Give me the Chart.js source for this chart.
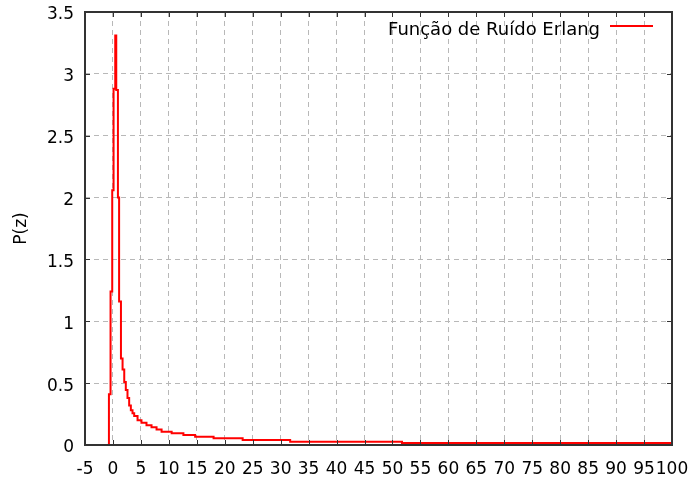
<!DOCTYPE html>
<html>
<head>
<meta charset="utf-8">
<title>Função de Ruído Erlang</title>
<script src="https://cdn.jsdelivr.net/npm/chart.js@4.4.0/dist/chart.umd.min.js"></script>
<style>
  html, body { margin: 0; padding: 0; background: #fff; }
  canvas { display: block; }
</style>
</head>
<body>
<canvas id="erlangChart" width="693" height="482"></canvas>
<script>
// Erlang noise density, sampled as steps (z, P(z))
const zValues = [-0.72, -0.72, -0.43, -0.13, 0.11, 0.41, 0.59, 0.89, 1.1, 1.43, 1.72, 2.02, 2.3, 2.6, 2.9, 3.2, 3.5, 3.8, 4.4, 5.1, 6.0, 6.9, 7.8, 8.7, 10.5, 12.6, 14.7, 18.0, 23.2, 31.7, 51.7, 100];
const pValues = [0, 0.41, 1.24, 2.06, 2.88, 3.31, 2.87, 2.0, 1.16, 0.70, 0.61, 0.51, 0.445, 0.38, 0.32, 0.28, 0.256, 0.234, 0.20, 0.18, 0.16, 0.143, 0.126, 0.108, 0.094, 0.081, 0.067, 0.054, 0.040, 0.027, 0.016, 0.016];

const xTicks = [-5, 0, 5, 10, 15, 20, 25, 30, 35, 40, 45, 50, 55, 60, 65, 70, 75, 80, 85, 90, 95, 100];
const yTicks = [0, 0.5, 1, 1.5, 2, 2.5, 3, 3.5];

const seriesLabel = 'Função de Ruído Erlang';
const yTitle = 'P(z)';

const FONT = 'DejaVu Sans';
const TEXT = '#000000';
const FRAME = '#333333';

// box around the plot plus inward ticks on all four sides (gnuplot look)
const framePlugin = {
  id: 'frame',
  afterDraw(chart) {
    const { ctx, chartArea: a, scales } = chart;
    ctx.save();
    ctx.strokeStyle = FRAME;
    ctx.lineWidth = 1;
    ctx.beginPath();
    scales.x.ticks.forEach(t => {
      const px = Math.round(scales.x.getPixelForValue(t.value)) + 0.5;
      ctx.moveTo(px, a.bottom); ctx.lineTo(px, a.bottom - 5);
      ctx.moveTo(px, a.top); ctx.lineTo(px, a.top + 5);
    });
    scales.y.ticks.forEach(t => {
      const py = Math.round(scales.y.getPixelForValue(t.value)) + 0.5;
      ctx.moveTo(a.left, py); ctx.lineTo(a.left + 5, py);
      ctx.moveTo(a.right, py); ctx.lineTo(a.right - 5, py);
    });
    ctx.stroke();
    ctx.lineWidth = 2;
    ctx.strokeRect(a.left, a.top, a.right - a.left, a.bottom - a.top);

    // key in the top right corner
    ctx.font = '18px "' + FONT + '"';
    ctx.fillStyle = TEXT;
    ctx.textAlign = 'right';
    ctx.textBaseline = 'alphabetic';
    ctx.fillText(seriesLabel, a.right - 72, a.top + 23);
    ctx.strokeStyle = '#ff0000';
    ctx.lineWidth = 2;
    ctx.beginPath();
    ctx.moveTo(a.right - 62, a.top + 14);
    ctx.lineTo(a.right - 19, a.top + 14);
    ctx.stroke();
    ctx.restore();
  }
};

const ctx = document.getElementById('erlangChart').getContext('2d');
new Chart(ctx, {
  type: 'line',
  data: {
    datasets: [{
      label: seriesLabel,
      data: zValues.map((z, i) => ({ x: z, y: pValues[i] })),
      borderColor: '#ff0000',
      borderWidth: 2,
      pointRadius: 0,
      stepped: true,
      fill: false
    }]
  },
  options: {
    responsive: false,
    animation: false,
    devicePixelRatio: 1,
    layout: { padding: { top: 12, right: 21, left: 0, bottom: 0 } },
    plugins: {
      legend: { display: false },
      tooltip: { enabled: false }
    },
    scales: {
      x: {
        type: 'linear',
        min: -5,
        max: 100,
        afterBuildTicks: (scale) => { scale.ticks = xTicks.map(v => ({ value: v })); },
        afterFit: (scale) => {
          scale.height = 37;
          scale.paddingLeft = 0;
          scale.paddingRight = 0;
        },
        ticks: {
          autoSkip: false,
          maxRotation: 0,
          padding: 14,
          color: TEXT,
          font: { family: FONT, size: 17 },
          callback: (v) => String(v)
        },
        grid: { color: '#b8b8b8', lineWidth: 1, drawTicks: false },
        border: { display: false, dash: [5, 4] }
      },
      y: {
        type: 'linear',
        min: 0,
        max: 3.5,
        afterBuildTicks: (scale) => { scale.ticks = yTicks.map(v => ({ value: v })); },
        afterFit: (scale) => {
          scale.width = 85;
          scale.paddingTop = 0;
          scale.paddingBottom = 0;
        },
        ticks: {
          padding: 11,
          labelOffset: 3,
          color: TEXT,
          font: { family: FONT, size: 17 },
          callback: (v) => String(v)
        },
        grid: { color: '#b8b8b8', lineWidth: 1, drawTicks: false },
        border: { display: false, dash: [5, 4] },
        title: {
          display: true,
          text: yTitle,
          color: TEXT,
          font: { family: FONT, size: 17 },
          padding: { top: 11, bottom: 0 }
        }
      }
    }
  },
  plugins: [framePlugin]
});
</script>
</body>
</html>
